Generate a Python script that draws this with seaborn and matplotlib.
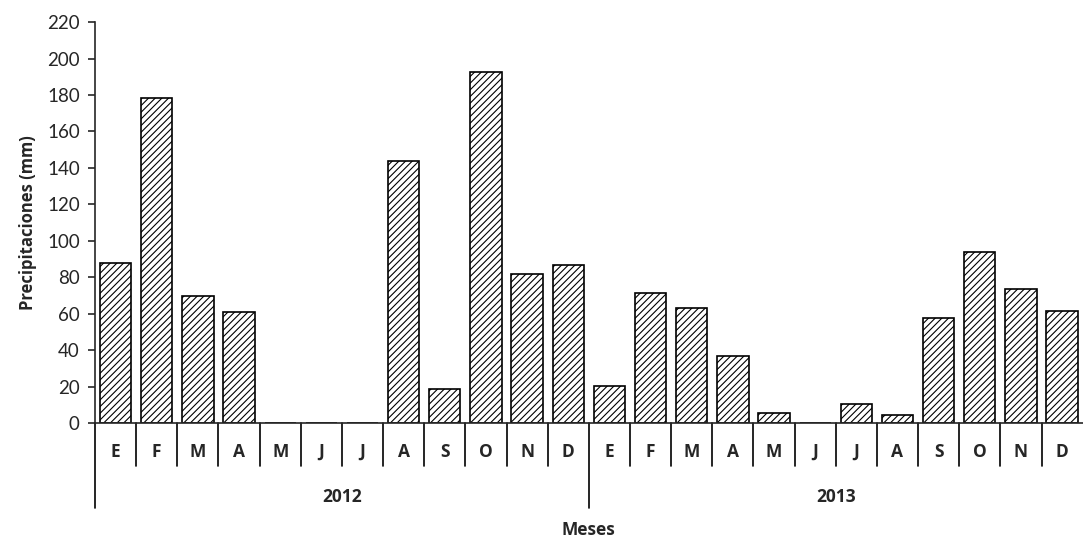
import pandas as pd
import matplotlib.pyplot as plt
import seaborn as sns

# data
months = ['E', 'F', 'M', 'A', 'M', 'J', 'J', 'A', 'S', 'O', 'N', 'D']
years = ['2012', '2013']
rain_2012 = [88, 178.5, 69.5, 61, 0, 0, 0, 144, 18.5, 192.5, 82, 86.5]
rain_2013 = [20.5, 71.5, 63, 37, 5.5, 0, 10.5, 4.5, 57.5, 94, 73.5, 61.5]

df = pd.DataFrame({
    'key': [f'{m}{i}-{y}' for y in years for i, m in enumerate(months)],
    'mm': rain_2012 + rain_2013,
})

sns.set_style('white')
plt.rcParams['font.family'] = ['Lato', 'DejaVu Sans']
plt.rcParams['hatch.linewidth'] = 0.8
plt.rcParams['hatch.color'] = '#333333'
bold = ['Open Sans', 'DejaVu Sans']

fig = plt.figure(figsize=(10.83, 5.4), dpi=100)
ax = fig.add_axes([0.0877, 0.2167, 0.912, 0.7423])

sns.barplot(data=df, x='key', y='mm', ax=ax, color='white', edgecolor='black',
            linewidth=1.2, width=0.76, hatch='/////')

ax.set_ylim(0, 220)
ax.set_xlim(-0.5, len(df) - 0.5)
ax.set_yticks(range(0, 221, 20))
ax.tick_params(axis='y', labelsize=13.5, length=5, width=1.2, direction='out', left=True, pad=6)
ax.tick_params(axis='x', length=0, labelbottom=False)
for s in ['top', 'right']:
    ax.spines[s].set_visible(False)
ax.spines['left'].set_linewidth(1.2)
ax.spines['bottom'].set_linewidth(1.2)
ax.set_xlabel('')
ax.set_ylabel('Precipitaciones (mm)', fontsize=12, fontweight='bold', family=bold, labelpad=7)

# two-level category axis
tr = ax.get_xaxis_transform()
n = len(df)
for i in range(n):
    bottom = -0.212 if i % 12 == 0 else -0.107
    ax.plot([i - 0.5, i - 0.5], [0, bottom], transform=tr, color='black',
            lw=1.2, clip_on=False)
for i in range(n):
    ax.text(i, -0.072, months[i % 12], transform=tr, ha='center', va='center',
            fontsize=12.5, fontweight='bold', family=bold)
for j, y in enumerate(years):
    ax.text(j * 12 + 5.5, -0.185, y, transform=tr, ha='center', va='center',
            fontsize=12.5, fontweight='bold', family=bold)
ax.text(11.5, -0.267, 'Meses', transform=tr, ha='center', va='center',
        fontsize=12.5, fontweight='bold', family=bold)

fig.savefig('out.png', dpi=100)
